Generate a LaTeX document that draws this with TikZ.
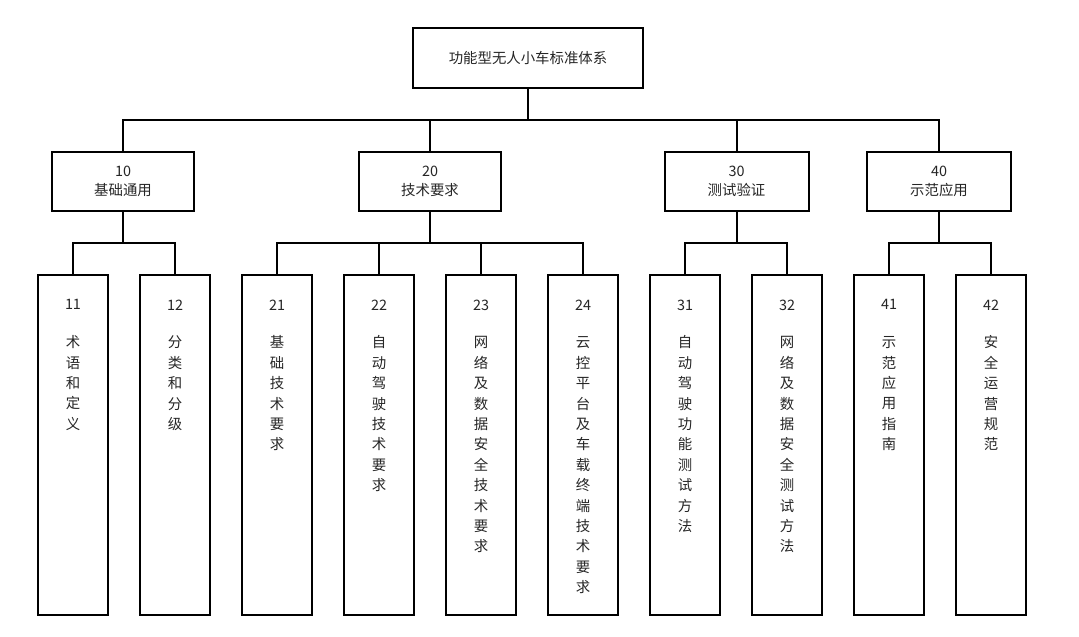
\documentclass[tikz,border=0pt]{standalone}
\usepackage{fontspec}
\setmainfont{Noto Sans CJK SC}
\usetikzlibrary{positioning}

\tikzset{
  box/.style={draw=black,line width=1.5pt,fill=white,inner sep=0pt},
  txt/.style={font=\fontsize{10.8}{15.3}\selectfont,align=center,text=black!85},
  link/.style={draw=black,line width=1.5pt}
}

\begin{document}
\begin{tikzpicture}[x=0.75pt,y=-0.75pt]
        \useasboundingbox (0,0) rectangle (1079,636);

        % top
        \node[box,minimum width=172.5pt,minimum height=45pt,txt] (top) at (528,58){功能型无人小车标准体系};
        \coordinate (bus) at (528,120);
        \draw[link] (top.south)--(bus);

        % second level
        \node[box,minimum width=107pt,minimum height=44pt,txt] (s10) at (123,181.5){10\\[-1pt]基础通用};
        \node[box,minimum width=107pt,minimum height=44pt,txt] (s20) at (430,181.5){20\\[-1pt]技术要求};
        \node[box,minimum width=108pt,minimum height=44pt,txt] (s30) at (736.5,181.5){30\\[-1pt]测试验证};
        \node[box,minimum width=108pt,minimum height=44pt,txt] (s40) at (939,181.5){40\\[-1pt]示范应用};
        \foreach \s in {s10,s20,s30,s40}
            \draw[link] (bus)-|(\s.north);

        \foreach \s in {s10,s20,s30,s40}
            \draw[link] (\s.south)--++(0,31) coordinate (j\s);

        % third level
        \foreach \n/\x/\p/\t in {11/73/s10/{术\\语\\和\\定\\义},12/175/s10/{分\\类\\和\\分\\级},
            21/277/s20/{基\\础\\技\\术\\要\\求},22/379/s20/{自\\动\\驾\\驶\\技\\术\\要\\求},
            23/481/s20/{网\\络\\及\\数\\据\\安\\全\\技\\术\\要\\求},24/583/s20/{云\\控\\平\\台\\及\\车\\载\\终\\端\\技\\术\\要\\求},
            31/685/s30/{自\\动\\驾\\驶\\功\\能\\测\\试\\方\\法},32/787/s30/{网\\络\\及\\数\\据\\安\\全\\测\\试\\方\\法},
            41/889/s40/{示\\范\\应\\用\\指\\南},42/991/s40/{安\\全\\运\\营\\规\\范}}{
            \node[box,minimum width=52.5pt,minimum height=255pt,anchor=north] (b\n) at (\x,274){};
            \node[txt,anchor=north] (l\n) at (\x,295){\n\\[13pt]\t};
            \draw[link] (j\p)-|(b\n.north);
        }
\end{tikzpicture}
\end{document}
